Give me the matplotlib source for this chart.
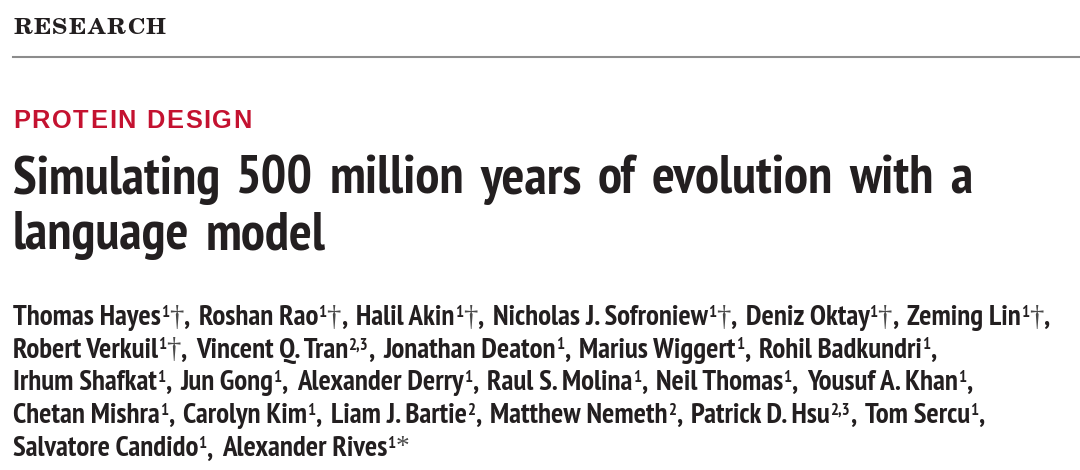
import matplotlib
matplotlib.use("Agg")
import math
import matplotlib.pyplot as plt
from matplotlib import font_manager as fm
from matplotlib.textpath import TextPath
from matplotlib.font_manager import FontProperties
from matplotlib.transforms import IdentityTransform

# ---------------- content ----------------
section_label = "RESEARCH"
topic_label = "PROTEIN DESIGN"
title_lines = ["Simulating 500 million years of evolution with a", "language model"]
author_names = ["Thomas Hayes", "Roshan Rao", "Halil Akin", "Nicholas J. Sofroniew",
                "Deniz Oktay", "Zeming Lin", "Robert Verkuil", "Vincent Q. Tran",
                "Jonathan Deaton", "Marius Wiggert", "Rohil Badkundri", "Irhum Shafkat",
                "Jun Gong", "Alexander Derry", "Raul S. Molina", "Neil Thomas",
                "Yousuf A. Khan", "Chetan Mishra", "Carolyn Kim", "Liam J. Bartie",
                "Matthew Nemeth", "Patrick D. Hsu", "Tom Sercu", "Salvatore Candido",
                "Alexander Rives"]
author_affils = ["1", "1", "1", "1", "1", "1", "1", "2,3", "1", "1", "1", "1", "1", "1",
                 "1", "1", "1", "1", "1", "2", "2", "2,3", "1", "1", "1"]
author_marks = ["†", "†", "†", "†", "†", "†", "†", "", "", "", "", "", "", "", "",
                "", "", "", "", "", "", "", "", "", "*"]
authors_per_line = [6, 5, 6, 6, 2]

# ---------------- setup ----------------
W, H = 1080, 470
PX = 100 / 72.0
fig = plt.figure(figsize=(W / 100, H / 100), dpi=100)
fig.patch.set_facecolor("white")
renderer = fig.canvas.get_renderer()
T = IdentityTransform()

bold_fams = set()
all_fams = set()
for f in fm.fontManager.ttflist:
    all_fams.add(f.name)
    w = f.weight
    if isinstance(w, str):
        w = fm.weight_dict.get(w, 400)
    if f.style == "normal" and int(w) >= 650 and "[" not in f.fname:
        bold_fams.add(f.name)


def first_bold(cands, fallback):
    for c in cands:
        if c in bold_fams:
            return c
    return fallback


def ink(s, family, weight, size=10):
    fp = FontProperties(family=family, weight=weight)
    e = TextPath((0, 0), s, size=size, prop=fp).get_extents()
    return e.width * PX, e.height * PX, e.y1 * PX


def py(y_top):
    return H - y_top


def measure(s, **kw):
    t = fig.text(0, 0, s, transform=T, va="baseline", ha="left", **kw)
    w = t.get_window_extent(renderer).width
    t.remove()
    return w


def adv(s, **kw):
    return measure("H" + s + "H", **kw) - measure("HH", **kw)


def size_for_cap(cap_px, family, weight):
    _, ch, _ = ink("H", family, weight, size=10)
    return 10 * cap_px / ch


TITLE_X0, TITLE_X1, TITLE_CAP = 13, 972, 38
TITLE_GAP_EM = 0.30


def title_fit(family, line):
    # font size making `line` span the reference width with gaps of TITLE_GAP_EM
    sz = 20.0
    kw = dict(fontsize=sz, family=family, weight="bold")
    words = line.split(" ")
    ww = sum(adv(w_, **kw) for w_ in words[:-1]) + measure(words[-1], **kw)
    total = ww + TITLE_GAP_EM * sz * PX * (len(words) - 1)
    return sz * (TITLE_X1 - TITLE_X0) / total


cond_cands = ["Roboto Condensed", "IBM Plex Sans Condensed", "Barlow Semi Condensed",
              "PT Sans Narrow", "Asap Condensed", "Fira Sans Condensed",
              "Encode Sans Semi Condensed", "Saira Semi Condensed", "Barlow Condensed",
              "Encode Sans Condensed", "Saira Condensed", "Liberation Sans Narrow",
              "Fira Sans Extra Condensed"]
best = None
for i, c in enumerate(cond_cands):
    if c not in bold_fams:
        continue
    try:
        sz = title_fit(c, title_lines[0])
        _, cap, _ = ink("H", c, "bold", size=sz)
        score = abs(math.log(cap / TITLE_CAP)) + 0.012 * i
        if best is None or score < best[0]:
            best = (score, c)
    except Exception:
        pass
COND = best[1] if best else "DejaVu Sans"

SERIF_HEAD = first_bold(["TeX Gyre Schola", "C059", "Century Schoolbook L",
                         "Noto Serif", "PT Serif", "Liberation Serif"], "DejaVu Serif")
SERIF = "Liberation Serif" if "Liberation Serif" in all_fams else "DejaVu Serif"
KICK = first_bold(["Liberation Sans"], "DejaVu Sans")

INK = "#231f20"
RED = "#c41230"


def tracked(x0, x1, y_top, s, size, **kw):
    advs = [adv(c, fontsize=size, **kw) for c in s]
    natural = sum(advs[:-1]) + measure(s[-1], fontsize=size, **kw)
    trk = (x1 - x0 - natural) / (len(s) - 1)
    x = x0
    for c, a in zip(s, advs):
        fig.text(x, py(y_top), c, transform=T, va="baseline", ha="left",
                 fontsize=size, **kw)
        x += a + trk


# ---------------- header ----------------
s_head = size_for_cap(16.5, SERIF_HEAD, "bold")
tracked(13, 166, 34, section_label, s_head, family=SERIF_HEAD, weight="bold", color=INK)

fig.add_artist(plt.Line2D([13, W], [py(57), py(57)], transform=T,
                          color="#8c8c8c", lw=1.5))

s_kick = size_for_cap(17.5, KICK, "bold")
tracked(13, 252, 128, topic_label, s_kick, family=KICK, weight="bold", color=RED)

# ---------------- title ----------------
title_size = title_fit(COND, title_lines[0])
tkw = dict(fontsize=title_size, family=COND, weight="bold", color=INK)
title_gap = TITLE_GAP_EM * title_size * PX
for line, yb in zip(title_lines, [194, 249]):
    x = TITLE_X0
    for w_ in line.split(" "):
        fig.text(x, py(yb), w_, transform=T, va="baseline", ha="left", **tkw)
        x += adv(w_, **tkw) + title_gap

# ---------------- authors ----------------
base_kw = dict(family=COND, weight="bold", color=INK)
GAP_EM = 0.32
SUP_SCALE = 0.58


def author_segments(i, last_in_para):
    segs = [(author_names[i], "base"), (author_affils[i], "sup")]
    if author_marks[i] == "†":
        segs.append(("†", "dagger"))
    elif author_marks[i] == "*":
        segs.append(("*", "star"))
    if not last_in_para:
        segs.append((",", "base"))
        segs.append(("", "gap"))
    return segs


def draw_line(segs, y_top, size, draw=True):
    x = 13.0
    _, cap_b, _ = ink("H", COND, "bold", size=size)
    sup_size = size * SUP_SCALE
    _, cap_s, _ = ink("1", COND, "bold", size=sup_size)
    for s, kind in segs:
        y = py(y_top)
        if kind == "gap":
            x += GAP_EM * size * PX
            continue
        if kind == "base":
            kw = dict(fontsize=size, **base_kw)
        elif kind == "sup":
            kw = dict(fontsize=sup_size, **base_kw)
            y += cap_b - cap_s
        elif kind == "dagger":
            kw = dict(fontsize=size, family=SERIF, weight="normal", color="#4a4a4a")
            _, dh, dtop = ink("†", SERIF, "normal", size=size)
            y += cap_b - dtop
        else:
            kw = dict(fontsize=size * 0.95, family=SERIF, weight="normal", color="#4a4a4a")
            _, sh, stop = ink("*", SERIF, "normal", size=size * 0.95)
            y += cap_b - stop
        w = adv(s, **kw)
        if draw:
            fig.text(x, y, s, transform=T, va="baseline", ha="left", **kw)
        x += w
    return x


lines = []
idx = 0
for n in authors_per_line:
    segs = []
    for k in range(n):
        is_last = idx == len(author_names) - 1
        segs += author_segments(idx, is_last)
        idx += 1
    if segs[-1][1] == "gap":
        segs = segs[:-1]
    lines.append(segs)

end20 = draw_line(lines[0], 0, 20.0, draw=False)
auth_size = 20.0 * (1050 - 13) / (end20 - 13)
baselines = [325, 357.5, 390, 423, 456.5]
for segs, yb in zip(lines, baselines):
    draw_line(segs, yb, auth_size)

fig.savefig("out.png", dpi=100, facecolor="white")
